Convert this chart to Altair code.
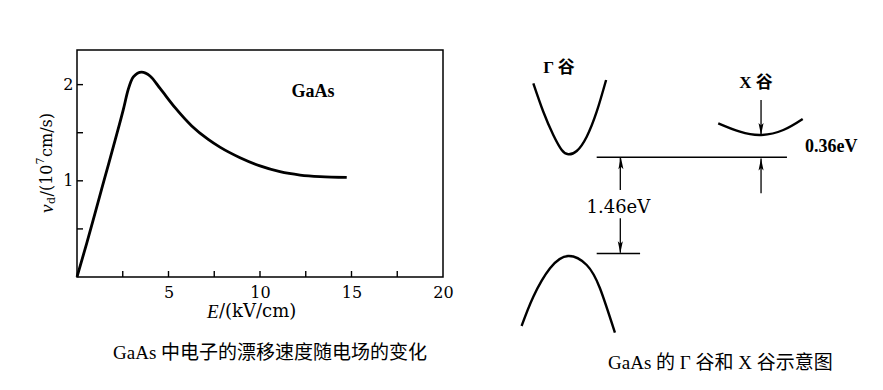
import altair as alt
import pandas as pd

# ---------------- left panel: drift velocity vs electric field ----------------
field_kv = [0, 0.53, 0.98, 1.53, 2.08, 2.53, 2.80, 3.08, 3.53, 3.99, 4.54, 5.36,
            6.27, 7.17, 7.81, 8.91, 10.0, 11.09, 12.19, 13.28, 14.74]
velocity = [0, 0.35, 0.66, 1.04, 1.42, 1.74, 1.95, 2.08, 2.13, 2.09, 1.96, 1.76,
            1.57, 1.43, 1.35, 1.24, 1.155, 1.095, 1.06, 1.043, 1.035]
x_tick_vals = [2.5, 5, 7.5, 10, 12.5, 15, 17.5]
y_tick_vals = [0.5, 1.0, 1.5, 2.0]
x_label_vals = [5, 10, 15, 20]
y_label_vals = [1, 2]
x_domain = [0, 20]
y_domain = [0, 2.36]

# ---------------- right panel: band schematic (k arbitrary, energy in eV) ----------------
gamma_k = [-0.191, -0.139, -0.087, -0.043, -0.009, 0.035, 0.087, 0.139, 0.188]
gamma_e = [2.579, 2.148, 1.795, 1.568, 1.503, 1.553, 1.770, 2.148, 2.629]
valence_k = [-0.252, -0.191, -0.104, -0.009, 0.087, 0.156, 0.234]
valence_e = [-1.098, -0.655, -0.224, -0.038, -0.174, -0.527, -1.200]
xvalley_k = [0.772, 0.885, 0.995, 1.111, 1.212]
xvalley_e = [1.973, 1.845, 1.795, 1.871, 2.038]
level_k1 = [0.139, 0.139]
level_k2 = [1.130, 0.365]
level_e = [1.46, 0.0]
shaft_k = [0.995, 0.995, 0.262, 0.262]
shaft_e1 = [2.326, 0.912, 0.962, 0.533]
shaft_e2 = [1.800, 1.440, 1.450, 0.010]
head_down_k = [0.995, 0.262]
head_down_e = [1.795, 0.003]
head_up_k = [0.995, 0.265]
head_up_e = [1.440, 1.458]
k_domain = [-2.5677, -0.66146]
e_domain = [-0.35606, 3.08333]

gap_label = "1.46eV"
offset_label = "0.36eV"
gamma_label = "Γ 谷"
x_label = "X 谷"
left_caption = "GaAs 中电子的漂移速度随电场的变化"
right_caption = "GaAs 的 Γ 谷和 X 谷示意图"

W, H = 366, 227
SERIF = "DejaVu Serif"
MIX = "Liberation Serif, Noto Sans CJK SC"

# ---------- left panel ----------
xs = alt.Scale(domain=x_domain, nice=False, zero=False)
ys = alt.Scale(domain=y_domain, nice=False, zero=False)

curve_df = pd.DataFrame({"E": field_kv, "v": velocity})
curve = alt.Chart(curve_df).mark_line(
    color="black", strokeWidth=2.8, interpolate="monotone"
).encode(
    x=alt.X("E:Q", scale=xs,
            axis=alt.Axis(values=x_label_vals, ticks=False, tickSize=0, domain=False, grid=False,
                          title=None, labelFont=SERIF, labelFontSize=16, labelColor="black",
                          labelPadding=7, labelFlush=False, format="d")),
    y=alt.Y("v:Q", scale=ys,
            axis=alt.Axis(values=y_label_vals, ticks=False, tickSize=0, domain=False, grid=False,
                          title=None, labelFont=SERIF, labelFontSize=16, labelColor="black",
                          labelPadding=4, labelFlush=False, format="d")),
)

xt = alt.Chart(pd.DataFrame({"E": x_tick_vals})).mark_rule(color="black", strokeWidth=1.4).encode(
    x=alt.X("E:Q", scale=xs), y=alt.value(H), y2=alt.value(H - 6))
yt = alt.Chart(pd.DataFrame({"v": y_tick_vals})).mark_rule(color="black", strokeWidth=1.4).encode(
    y=alt.Y("v:Q", scale=ys), x=alt.value(0), x2=alt.value(6))

gaas = alt.Chart(pd.DataFrame({"E": [12.9], "v": [1.92], "t": ["GaAs"]})).mark_text(
    font="Liberation Serif", fontSize=18, fontWeight="bold", color="black"
).encode(x=alt.X("E:Q", scale=xs), y=alt.Y("v:Q", scale=ys), text="t:N")

left = alt.layer(curve, xt, yt, gaas)

# ---------- right panel ----------
ks = alt.Scale(domain=k_domain, nice=False, zero=False)
es = alt.Scale(domain=e_domain, nice=False, zero=False)


def band(kv, ev, name):
    return pd.DataFrame({"k": kv, "e": ev, "band": name})


bands_df = pd.concat([band(gamma_k, gamma_e, "gamma"), band(valence_k, valence_e, "valence"),
                      band(xvalley_k, xvalley_e, "x")])
bands = alt.Chart(bands_df).mark_line(color="black", strokeWidth=2.4, interpolate="natural").encode(
    x=alt.X("k:Q", scale=ks, axis=None), y=alt.Y("e:Q", scale=es, axis=None), detail="band:N")

levels = alt.Chart(pd.DataFrame({"k1": level_k1, "k2": level_k2, "e": level_e})).mark_rule(
    color="black", strokeWidth=1.5).encode(
    x=alt.X("k1:Q", scale=ks, axis=None), x2="k2:Q", y=alt.Y("e:Q", scale=es, axis=None))

shafts = alt.Chart(pd.DataFrame({"k": shaft_k, "e1": shaft_e1, "e2": shaft_e2})).mark_rule(
    color="black", strokeWidth=1.3).encode(
    x=alt.X("k:Q", scale=ks, axis=None), y=alt.Y("e1:Q", scale=es, axis=None), y2="e2:Q")

down_shape = "M-0.42,-2 L0,0 L0.42,-2 L0,-1.6 Z"
up_shape = "M-0.42,2 L0,0 L0.42,2 L0,1.6 Z"
heads_down = alt.Chart(pd.DataFrame({"k": head_down_k, "e": head_down_e})).mark_point(
    shape=down_shape, filled=True, color="black", opacity=1, size=144, strokeWidth=0).encode(
    x=alt.X("k:Q", scale=ks, axis=None), y=alt.Y("e:Q", scale=es, axis=None))
heads_up = alt.Chart(pd.DataFrame({"k": head_up_k, "e": head_up_e})).mark_point(
    shape=up_shape, filled=True, color="black", opacity=1, size=144, strokeWidth=0).encode(
    x=alt.X("k:Q", scale=ks, axis=None), y=alt.Y("e:Q", scale=es, axis=None))


def schem_text(k, e, s, **kw):
    return alt.Chart(pd.DataFrame({"k": [k], "e": [e], "t": [s]})).mark_text(color="black", **kw).encode(
        x=alt.X("k:Q", scale=ks, axis=None), y=alt.Y("e:Q", scale=es, axis=None), text="t:N")


t_gap = schem_text(0.252, 0.69, gap_label, font=SERIF, fontSize=18)
t_off = schem_text(1.224, 1.614, offset_label, font="Liberation Serif", fontSize=18,
                   fontWeight="bold", align="left")
t_gam = schem_text(-0.057, 2.81, gamma_label, font=MIX, fontSize=17, fontWeight="bold")
t_x = schem_text(0.969, 2.58, x_label, font=MIX, fontSize=17, fontWeight="bold")

right = alt.layer(bands, levels, shafts, heads_down, heads_up, t_gam, t_x, t_off, t_gap)


# ---------- free text (axis titles pieces, captions) in pixel space ----------
def ptext(s, px, py, **kw):
    return alt.Chart(pd.DataFrame({"t": [s]})).mark_text(color="black", **kw).encode(
        x=alt.value(px), y=alt.value(py), text="t:N")


yt_x, yt_y = -30, 163
ytitle = [
    ptext("v", yt_x, yt_y, font="Liberation Serif", fontStyle="italic", fontSize=19, angle=270,
          align="left", baseline="middle"),
    ptext("d", yt_x, yt_y, font=SERIF, fontSize=11, angle=270, align="left", baseline="middle",
          dx=9, dy=5),
    ptext("/(10", yt_x, yt_y, font=SERIF, fontSize=16, angle=270, align="left", baseline="middle",
          dx=16.5),
    ptext("7", yt_x, yt_y, font=SERIF, fontSize=11, angle=270, align="left", baseline="middle",
          dx=48.5, dy=-6),
    ptext("cm/s)", yt_x, yt_y, font=SERIF, fontSize=16, angle=270, align="left", baseline="middle",
          dx=56),
]
xtitle = [
    ptext("E", 130, 262, font="Liberation Serif", fontStyle="italic", fontSize=19, align="left",
          baseline="middle"),
    ptext("/(kV/cm)", 130, 262, font=SERIF, fontSize=18, align="left", baseline="middle", dx=12),
]
captions = [
    ptext(left_caption, 36, 303, font=MIX, fontSize=19, align="left", baseline="middle"),
    ptext(right_caption, 531, 313, font=MIX, fontSize=19, align="left", baseline="middle"),
]

anchor = alt.Chart(pd.DataFrame({"a": [0]})).mark_point(
    filled=True, size=1, opacity=0, strokeWidth=0).encode(x=alt.value(-68.5), y=alt.value(-41.5))

chart = alt.layer(left, right, *ytitle, *xtitle, *captions, anchor).resolve_scale(
    x="independent", y="independent"
).properties(
    width=W, height=H, padding=0, background="white"
).configure_view(
    stroke="black", strokeWidth=1.5
)

chart.save("out.html", embed_options={"renderer": "svg", "actions": False})
